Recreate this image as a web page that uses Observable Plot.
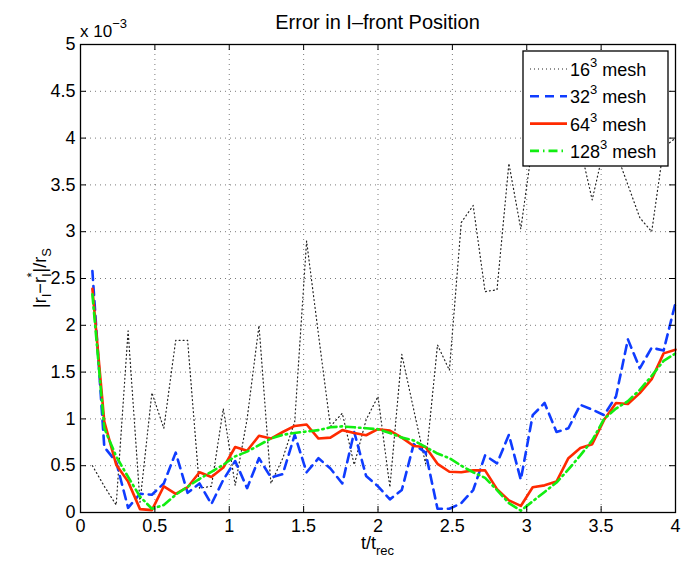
<!DOCTYPE html>
<html><head><meta charset="utf-8">
<script src="https://cdn.jsdelivr.net/npm/d3@7"></script>
<script src="https://cdn.jsdelivr.net/npm/@observablehq/plot@0.6"></script>
<style>body{margin:0;background:#fff}#chart{width:685px;height:561px}</style>
</head><body><div id="chart"></div>
<script>
// time axis t/t_rec
const tValues = [0.08,0.16,0.24,0.32,0.40,0.48,0.56,0.64,0.72,0.80,0.88,0.96,1.04,1.12,1.20,1.28,1.36,1.44,1.52,1.60,1.68,1.76,1.84,1.92,2.00,2.08,2.16,2.24,2.32,2.40,2.48,2.56,2.64,2.72,2.80,2.88,2.96,3.04,3.12,3.20,3.28,3.36,3.44,3.52,3.60,3.68,3.76,3.84,3.92,4.00];
// errors in units of 1e-3
const mesh16 = [0.50,0.28,0.08,1.94,0.11,1.28,0.90,1.84,1.84,0.26,0.28,1.11,0.29,1.00,2.00,0.31,0.58,0.97,2.90,1.90,0.92,1.06,0.51,0.99,1.24,0.27,1.69,1.10,0.52,1.79,1.52,3.10,3.28,2.36,2.38,3.73,3.03,3.95,4.10,4.20,4.00,3.90,3.34,3.90,3.85,3.50,3.15,3.00,3.90,4.00];
const mesh32 = [2.58,0.70,0.54,0.05,0.20,0.19,0.31,0.64,0.21,0.31,0.09,0.35,0.55,0.26,0.58,0.375,0.41,0.83,0.43,0.58,0.47,0.31,0.86,0.39,0.28,0.14,0.24,0.73,0.64,0.04,0.04,0.10,0.24,0.61,0.525,0.83,0.35,1.04,1.17,0.86,0.90,1.15,1.10,1.04,1.24,1.85,1.54,1.76,1.73,2.24];
const mesh64 = [2.39,0.97,0.51,0.33,0.036,0.025,0.28,0.20,0.27,0.43,0.38,0.48,0.70,0.66,0.82,0.79,0.86,0.925,0.94,0.79,0.80,0.88,0.85,0.825,0.89,0.875,0.80,0.71,0.70,0.52,0.435,0.43,0.45,0.45,0.25,0.13,0.07,0.27,0.29,0.33,0.58,0.69,0.73,0.99,1.17,1.16,1.275,1.425,1.70,1.74];
const mesh128 = [2.33,0.90,0.60,0.38,0.17,0.04,0.08,0.19,0.275,0.36,0.435,0.51,0.60,0.65,0.72,0.79,0.83,0.85,0.865,0.88,0.91,0.92,0.91,0.90,0.89,0.85,0.80,0.77,0.70,0.63,0.58,0.50,0.43,0.37,0.24,0.10,0.02,0.12,0.22,0.32,0.46,0.61,0.77,1.00,1.11,1.19,1.31,1.46,1.62,1.70];
const xTicks = [0,0.5,1,1.5,2,2.5,3,3.5,4];
const yTicks = [0,0.5,1,1.5,2,2.5,3,3.5,4,4.5,5];
const seriesNames = ["16", "32", "64", "128"];

const seriesStyle = {
  "16":  {stroke:"#222", strokeWidth:1.2, strokeDasharray:"1,3"},
  "32":  {stroke:"#0f3cff", strokeWidth:2.6, strokeDasharray:"9,6"},
  "64":  {stroke:"#ff2a00", strokeWidth:2.6, strokeDasharray:null},
  "128": {stroke:"#11ee11", strokeWidth:2.6, strokeDasharray:"9,4,1.5,4"}
};
const seriesValues = {"16":mesh16,"32":mesh32,"64":mesh64,"128":mesh128};
const rows = s => tValues.map((t,i)=>({t, v: seriesValues[s][i]}));

const ML=80, MR=10, MT=44, MB=49, W=685, H=561;
const innerH = H-MT-MB, innerW = W-ML-MR;
const tick = 6;
const FONT = "'Liberation Sans', Arial, Helvetica, sans-serif";

const svg = Plot.plot({
  width: W, height: H,
  marginLeft: ML, marginRight: MR, marginTop: MT, marginBottom: MB,
  style: {fontFamily: FONT, fontSize:"18px", color:"#000", background:"#fff", overflow:"visible"},
  x: {domain:[0,4], ticks: xTicks, tickFormat: d=>String(d), tickSize:0, tickPadding:7, label:null},
  y: {domain:[0,5], ticks: yTicks, tickFormat: d=>String(d), tickSize:0, tickPadding:5, label:null},
  marks: [
    Plot.ruleX(xTicks.slice(1,-1), {x:d=>d, stroke:"#000", strokeOpacity:0.75, strokeWidth:0.7, strokeDasharray:"1,4"}),
    Plot.ruleY(yTicks.slice(1,-1), {y:d=>d, stroke:"#000", strokeOpacity:0.75, strokeWidth:0.7, strokeDasharray:"1,4"}),
    ...seriesNames.map(s => Plot.line(rows(s), {x:"t", y:"v", ...seriesStyle[s]})),
    Plot.tickX(xTicks, {x:d=>d, insetTop: innerH-tick, stroke:"#000", strokeWidth:1}),
    Plot.tickX(xTicks, {x:d=>d, insetBottom: innerH-tick, stroke:"#000", strokeWidth:1}),
    Plot.tickY(yTicks, {y:d=>d, insetRight: innerW-tick, stroke:"#000", strokeWidth:1}),
    Plot.tickY(yTicks, {y:d=>d, insetLeft: innerW-tick, stroke:"#000", strokeWidth:1}),
    Plot.frame({stroke:"#000", strokeWidth:1.3})
  ]
});
document.getElementById("chart").appendChild(svg);

const g = d3.select(svg).append("g").attr("fill","#000").attr("text-anchor","start")
  .style("font-family", FONT);

// title
g.append("text").attr("x", ML+innerW/2).attr("y", 29).attr("text-anchor","middle")
  .style("font-size","20px").text("Error in I\u2013front Position");

// exponent label
const ex = g.append("text").attr("x", 80).attr("y", 37).style("font-size","17px");
ex.append("tspan").text("x 10");
ex.append("tspan").attr("dy",-9).style("font-size","13px").text("\u22123");

// x label
const xl = g.append("text").attr("x", 361).attr("y", 549).style("font-size","18px");
xl.append("tspan").text("t/t");
xl.append("tspan").attr("dy",6).style("font-size","13px").text("rec");

// y label
const yl = g.append("text").attr("transform",`translate(46,${MT+innerH/2}) rotate(-90)`)
  .attr("text-anchor","middle").style("font-size","18px");
yl.append("tspan").text("|r");
yl.append("tspan").attr("dy",5).style("font-size","13px").text("I");
yl.append("tspan").attr("dy",-5).text("\u2212r");
yl.append("tspan").attr("dy",5).style("font-size","13px").text("I");
yl.append("tspan").attr("dy",-15).attr("dx",-4).style("font-size","13px").text("*");
yl.append("tspan").attr("dy",10).text("|/r");
yl.append("tspan").attr("dy",5).style("font-size","13px").text("S");

// legend
const lg = d3.select(svg).append("g").attr("text-anchor","start").style("font-family", FONT);
lg.append("rect").attr("x",523).attr("y",51).attr("width",145).attr("height",115)
  .attr("fill","#fff").attr("stroke","#000").attr("stroke-width",1.3);
seriesNames.forEach((s,i)=>{
  const y = 69 + i*27.3;
  const st = seriesStyle[s];
  lg.append("line").attr("x1",530).attr("x2",567).attr("y1",y).attr("y2",y)
    .attr("stroke",st.stroke).attr("stroke-width",st.strokeWidth)
    .attr("stroke-dasharray",st.strokeDasharray);
  const t = lg.append("text").attr("x",570).attr("y",y+7).attr("fill","#000").style("font-size","18px");
  t.append("tspan").text(s);
  t.append("tspan").attr("dy",-9).style("font-size","13px").text("3");
  t.append("tspan").attr("dy",9).text(" mesh");
});
</script></body></html>
